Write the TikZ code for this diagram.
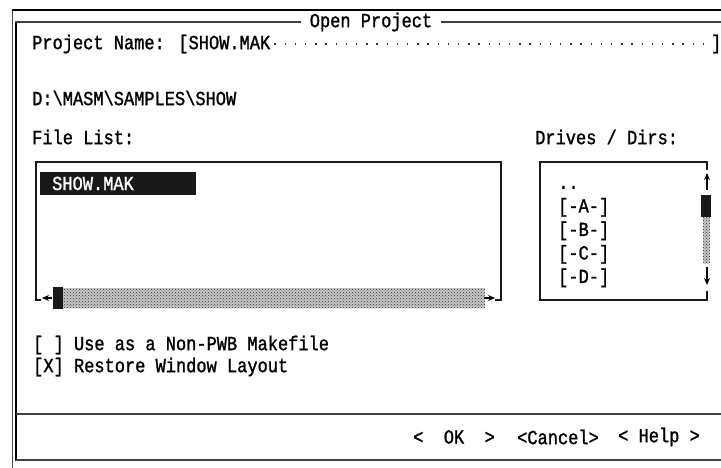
\documentclass[tikz,border=0pt]{standalone}
\usepackage{fontspec}
\newfontfamily\dosfont{Liberation Mono}[FakeStretch=0.85,FakeBold=1.3]
\usetikzlibrary{positioning,arrows.meta,patterns}

\begin{document}
\begin{tikzpicture}[x=1pt,y=-1pt,>={Stealth[length=7pt,width=6pt]},
        txt/.style={font=\dosfont\fontsize{20}{22}\selectfont,inner sep=0pt,anchor=west},
        frm/.style={line width=1.6pt,draw=black!90},
        sel/.style={txt,fill=black!90,text=white,minimum height=23pt,
                    text width=132pt,inner xsep=12pt,align=left},
        track/.style={fill=black!22,postaction={pattern=crosshatch dots,pattern color=black!80}},
        thumb/.style={fill=black!90}]

  \useasboundingbox (0,0) rectangle (721,468);

  % dialog frame
  \node[txt,anchor=center,inner xsep=9pt] (title) at (371,22) {Open Project};
  \draw[line width=0.8pt,black!70] (12,468) -- (12,10);
  \draw[line width=1.6pt] (12,10) -- (721,10);
  \draw[line width=2.6pt] (16,461) -- (16,22);
  \draw[line width=1.4pt,black!75] (15,22) -- (title.west)
        (title.east) -- (721,22);
  \draw[line width=1.4pt,black!75] (16,414) -- (721,414)
        (16,460) -- (721,460);

  % fields
  \node[txt] (pname) at (32,44) {Project Name: [SHOW.MAK};
  \node[txt] (pend)  at (711,44) {]};
  \draw[line width=1.3pt,dash pattern=on 1.3pt off 8.9pt,black!80]
        ([xshift=4pt]pname.east) -- (pend.west);
  \node[txt] (path)  at (32,98) {D:\textbackslash MASM\textbackslash SAMPLES\textbackslash SHOW};
  \node[txt] (flist) at (32,137) {File List:};
  \node[txt] (dlist) at (535,137) {Drives / Dirs:};

  % file list box
  \draw[frm] (41,300) -- (36,300) -- (36,162) -- (501,162) -- (501,300) -- (495,300);
  \node[sel,anchor=west] (item) at (40,183.5) {SHOW.MAK};
  \fill[thumb] (53,287) rectangle (63,309);
  \path[track] (63,288) rectangle (485,308);
  \draw[->,line width=1.2pt] (52,298) -- (42,298);
  \draw[->,line width=1.2pt] (484,298) -- (495,298);

  % drives box
  \draw[frm] (707,170) -- (707,162) -- (540,162) -- (540,300) -- (707,300) -- (707,291);
  \fill[thumb] (701,195) rectangle (711,217);
  \path[track] (703,217) rectangle (710,263);
  \draw[->,line width=1.2pt] (707,190) -- (707,173);
  \draw[->,line width=1.2pt] (707,267) -- (707,285);
  \node[txt,anchor=base west] (dd) at (558,189) {..};
  \node[txt,anchor=base west] (da) at (558,212.5) {[-A-]};
  \node[txt,anchor=base west] (db) at (558,236) {[-B-]};
  \node[txt,anchor=base west] (dc) at (558,259.5) {[-C-]};
  \node[txt,anchor=base west] (dx) at (558,283) {[-D-]};

  % options
  \node[txt] (opt1) at (33,345) {[ ] Use as a Non-PWB Makefile};
  \node[txt] (opt2) at (33,367) {[X] Restore Window Layout};

  % buttons
  \node[txt] (ok)     at (413,437) {<\ \ OK\ \ >};
  \node[txt] (cancel) at (517,437) {<Cancel>};
  \node[txt] (help)   at (618,437) {< Help >};

\end{tikzpicture}
\end{document}
